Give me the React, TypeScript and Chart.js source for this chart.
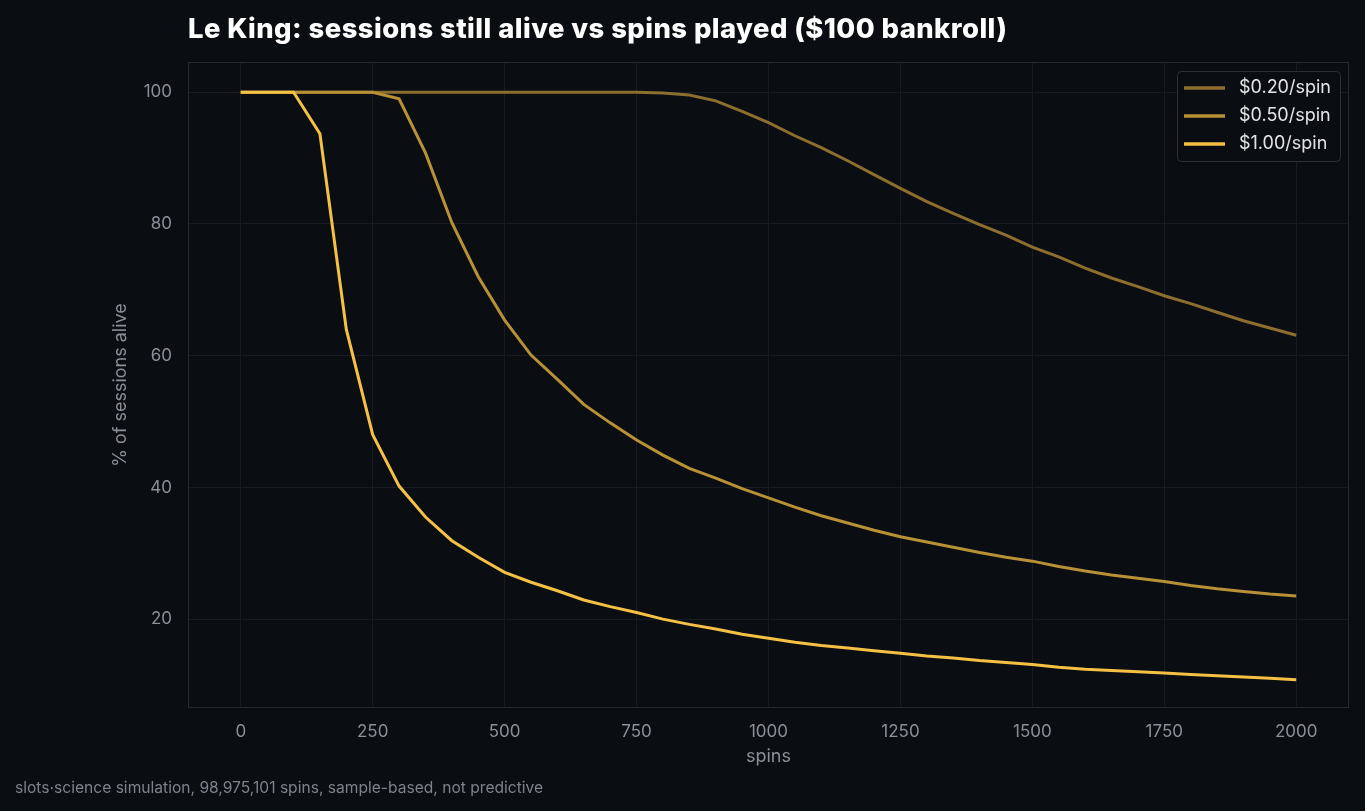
import { useEffect, useRef } from "react";
import { Chart, registerables } from "chart.js";

Chart.register(...registerables);

const spins = [0, 50, 100, 150, 200, 250, 300, 350, 400, 450, 500, 550, 600, 650, 700, 750, 800, 850, 900, 950, 1000, 1050, 1100, 1150, 1200, 1250, 1300, 1350, 1400, 1450, 1500, 1550, 1600, 1650, 1700, 1750, 1800, 1850, 1900, 1950, 2000];

const alive020 = [100, 100, 100, 100, 100, 100, 100, 100, 100, 100, 100, 100, 100, 100, 100, 100, 99.9, 99.6, 98.7, 97.1, 95.4, 93.4, 91.6, 89.6, 87.5, 85.4, 83.4, 81.6, 79.9, 78.3, 76.5, 75.0, 73.3, 71.8, 70.5, 69.1, 67.9, 66.6, 65.3, 64.2, 63.1];

const alive050 = [100, 100, 100, 100, 100, 100, 99.0, 90.8, 80.2, 72.0, 65.4, 60.1, 56.4, 52.6, 49.8, 47.2, 44.9, 42.9, 41.4, 39.8, 38.4, 37.0, 35.7, 34.6, 33.5, 32.5, 31.7, 30.9, 30.1, 29.4, 28.8, 28.0, 27.3, 26.7, 26.2, 25.7, 25.1, 24.6, 24.2, 23.8, 23.5];

const alive100 = [100, 100, 100, 93.7, 64.0, 48.0, 40.2, 35.5, 31.9, 29.4, 27.1, 25.6, 24.3, 22.9, 21.9, 21.0, 20.0, 19.2, 18.5, 17.7, 17.1, 16.5, 16.0, 15.6, 15.2, 14.8, 14.4, 14.1, 13.7, 13.4, 13.1, 12.7, 12.4, 12.2, 12.0, 11.8, 11.6, 11.4, 11.2, 11.0, 10.8];

const seriesLabels = ["$0.20/spin", "$0.50/spin", "$1.00/spin"];
const seriesColors = ["#8c6e2e", "#b89136", "#f5c144"];

const xTicks = [0, 250, 500, 750, 1000, 1250, 1500, 1750, 2000];
const yTicks = [20, 40, 60, 80, 100];

const titleText = "Le King: sessions still alive vs spins played ($100 bankroll)";
const xTitle = "spins";
const yTitle = "% of sessions alive";
const footerText = "slots·science simulation, 98,975,101 spins, sample-based, not predictive";

const BG = "#0a0d11";
const GRID = "#181c22";
const FRAME = "#252a31";
const TICK = "#8a9099";

const decorPlugin = {
  id: "decor",
  beforeDraw(chart: any) {
    const { ctx, width, height } = chart;
    ctx.save();
    ctx.fillStyle = BG;
    ctx.fillRect(0, 0, width, height);
    ctx.restore();
  },
  afterDraw(chart: any) {
    const { ctx, chartArea } = chart;
    const { left, right, top, bottom } = chartArea;
    ctx.save();
    ctx.strokeStyle = FRAME;
    ctx.lineWidth = 1;
    ctx.strokeRect(left + 0.5, top + 0.5, right - left - 1, bottom - top - 1);

    // title
    ctx.fillStyle = "#ffffff";
    ctx.font = "800 27.4px Inter";
    (ctx as any).letterSpacing = "0.45px";
    ctx.textAlign = "left";
    ctx.textBaseline = "middle";
    ctx.fillText(titleText, left, 30);
    (ctx as any).letterSpacing = "0px";

    // axis titles
    ctx.fillStyle = TICK;
    ctx.font = "18px Inter";
    ctx.textAlign = "center";
    ctx.fillText(xTitle, (left + right) / 2, 757);
    ctx.save();
    ctx.translate(121, (top + bottom) / 2);
    ctx.rotate(-Math.PI / 2);
    ctx.fillText(yTitle, 0, 0);
    ctx.restore();

    // footer
    ctx.fillStyle = "#7c838c";
    ctx.font = "15.6px Inter";
    ctx.textAlign = "left";
    ctx.fillText(footerText, 15, 788);

    // legend
    const bx = 1177.5, by = 71.5, bw = 163, bh = 90;
    ctx.fillStyle = BG;
    ctx.strokeStyle = "#2a3038";
    ctx.lineWidth = 1;
    ctx.beginPath();
    (ctx as any).roundRect(bx, by, bw, bh, 4);
    ctx.fill();
    ctx.stroke();
    const rows = [88, 116, 144];
    ctx.font = "18px Inter";
    for (let i = 0; i < seriesLabels.length; i++) {
      ctx.strokeStyle = seriesColors[i];
      ctx.lineWidth = 3.5;
      ctx.beginPath();
      ctx.moveTo(1184, rows[i]);
      ctx.lineTo(1225, rows[i]);
      ctx.stroke();
      ctx.fillStyle = "#e4e4e4";
      ctx.textAlign = "left";
      ctx.fillText(seriesLabels[i], 1239, rows[i]);
    }
    ctx.restore();
  },
};

export default function App() {
  const ref = useRef<HTMLCanvasElement | null>(null);

  useEffect(() => {
    document.body.style.margin = "0";
    document.body.style.background = BG;
    const canvas = ref.current;
    if (!canvas) return;
    const series = [alive020, alive050, alive100];
    const chart = new Chart(canvas, {
      type: "line",
      data: {
        datasets: series.map((vals, i) => ({
          label: seriesLabels[i],
          data: spins.map((s, j) => ({ x: s, y: vals[j] })),
          borderColor: seriesColors[i],
          backgroundColor: seriesColors[i],
          borderWidth: 3,
          pointRadius: 0,
          tension: 0,
          fill: false,
          order: 3 - i,
        })),
      },
      options: {
        animation: false,
        responsive: false,
        maintainAspectRatio: false,
        layout: { padding: { top: 62, right: 16, left: 0, bottom: 0 } },
        plugins: {
          legend: { display: false },
          title: { display: false },
          tooltip: { enabled: false },
        },
        scales: {
          x: {
            type: "linear",
            min: -100,
            max: 2100,
            afterBuildTicks(scale: any) {
              scale.ticks = xTicks.map((v) => ({ value: v }));
            },
            afterFit(scale: any) {
              scale.height = 103;
            },
            grid: { color: GRID, drawTicks: false, lineWidth: 1 },
            border: { display: false },
            ticks: {
              color: TICK,
              font: { family: "Inter", size: 17 },
              padding: 14,
              maxRotation: 0,
              callback: (v: any) => String(v),
            },
          },
          y: {
            type: "linear",
            min: 6.5,
            max: 104.6,
            afterBuildTicks(scale: any) {
              scale.ticks = yTicks.map((v) => ({ value: v }));
            },
            afterFit(scale: any) {
              scale.width = 188;
            },
            grid: { color: GRID, drawTicks: false, lineWidth: 1 },
            border: { display: false },
            ticks: {
              color: TICK,
              font: { family: "Inter", size: 17 },
              padding: 16,
              callback: (v: any) => String(v),
            },
          },
        },
      },
      plugins: [decorPlugin],
    });
    return () => chart.destroy();
  }, []);

  return (
    <div style={{ width: 1365, height: 811, background: BG }}>
      <canvas ref={ref} width={1365} height={811} style={{ display: "block" }} />
    </div>
  );
}
